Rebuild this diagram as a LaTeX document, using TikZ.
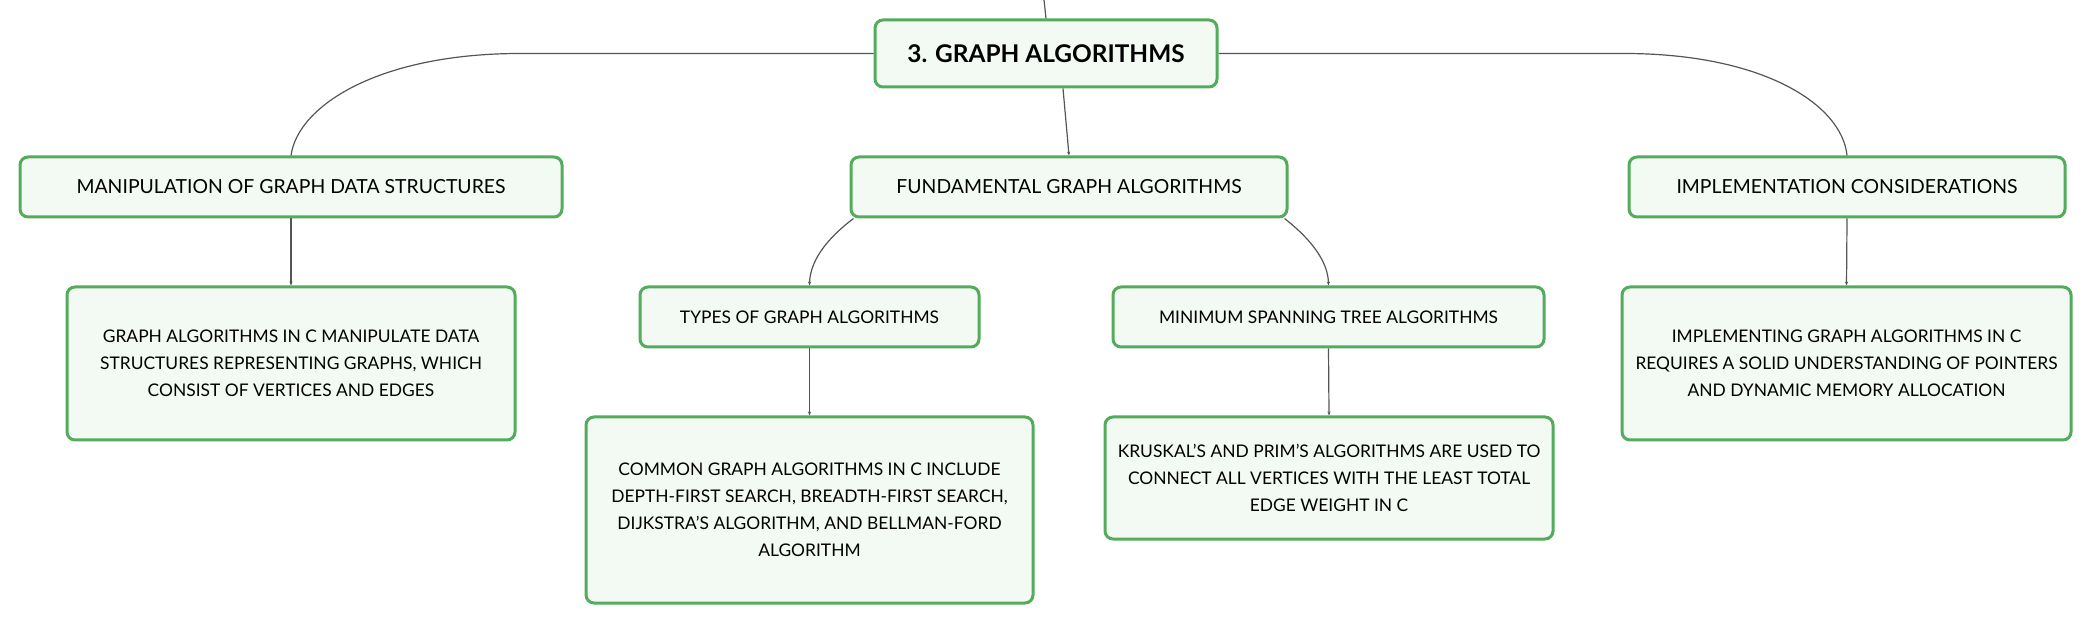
\documentclass[tikz,border=0pt]{standalone}
\usepackage{fontspec}
\setmainfont{Lato}
\usetikzlibrary{arrows.meta}
\definecolor{boxline}{RGB}{82,172,92}
\definecolor{boxfill}{RGB}{243,250,244}
\definecolor{linkgray}{RGB}{85,85,85}
\tikzset{
  topic/.style={draw=boxline, line width=1.5pt, fill=boxfill, rounded corners=4pt,
    align=center, inner sep=0pt, font=\fontsize{8.7}{13.5}\selectfont},
  head/.style={topic, minimum width=218pt, minimum height=30pt, font=\fontsize{9.7}{13.5}\selectfont},
  link/.style={draw=linkgray, line width=0.6pt},
  tip/.style={-{Stealth[length=2pt,width=1.6pt]}}
}
\begin{document}
\begin{tikzpicture}[x=0.5pt, y=-0.5pt]
\useasboundingbox (0,0) rectangle (2092,624);
\node[topic, minimum width=171pt, minimum height=33.5pt, font=\fontsize{12.2}{15}\selectfont\bfseries] (root) at (1046,53.5) {3. GRAPH ALGORITHMS};
\node[head, minimum width=271pt] (manip) at (291,187) {MANIPULATION OF GRAPH DATA STRUCTURES};
\node[head] (fund) at (1069,187) {FUNDAMENTAL GRAPH ALGORITHMS};
\node[head] (impl) at (1847,187) {IMPLEMENTATION CONSIDERATIONS};
\node[topic, minimum width=224pt, minimum height=76.5pt] (manipd) at (291,363.5) {GRAPH ALGORITHMS IN C MANIPULATE DATA\\ STRUCTURES REPRESENTING GRAPHS, WHICH\\ CONSIST OF VERTICES AND EDGES};
\node[topic, minimum width=169.5pt, minimum height=30pt] (types) at (809.5,317) {TYPES OF GRAPH ALGORITHMS};
\node[topic, minimum width=215.5pt, minimum height=30pt] (mst) at (1328.5,317) {MINIMUM SPANNING TREE ALGORITHMS};
\node[topic, minimum width=224.5pt, minimum height=76.5pt] (impld) at (1846.5,363.5) {IMPLEMENTING GRAPH ALGORITHMS IN C\\ REQUIRES A SOLID UNDERSTANDING OF POINTERS\\ AND DYNAMIC MEMORY ALLOCATION};
\node[topic, minimum width=223.5pt, minimum height=93pt] (common) at (809.5,510) {COMMON GRAPH ALGORITHMS IN C INCLUDE\\ DEPTH-FIRST SEARCH, BREADTH-FIRST SEARCH,\\ DIJKSTRA'S ALGORITHM, AND BELLMAN-FORD\\ ALGORITHM};
\node[topic, minimum width=224pt, minimum height=61pt] (krusk) at (1329,478) {KRUSKAL'S AND PRIM'S ALGORITHMS ARE USED TO\\ CONNECT ALL VERTICES WITH THE LEAST TOTAL\\ EDGE WEIGHT IN C};
\coordinate (up) at (1044,0);
\draw[link] (up) -- (root.north);
\draw[link] (root.west) -- (520,53.5) .. controls (380,53.5) and (298,105) .. (manip.north);
\draw[link] (root.east) -- (1624,53.5) .. controls (1764,53.5) and (1842,105) .. (impl.north);
\draw[link, tip] ([xshift=8.5pt]root.south) -- (fund.north);
\draw[link, tip] ([xshift=2pt]fund.south west) .. controls (825,240) and (810,262) .. (types.north);
\draw[link, tip] ([xshift=-2pt]fund.south east) .. controls (1312,240) and (1328,262) .. (mst.north);
\draw[link, tip] (manip.south) -- (manipd.north);
\draw[link, tip] (impl.south) -- (impld.north);
\draw[link, tip] (types.south) -- (common.north);
\draw[link, tip] (mst.south) -- (krusk.north);
\end{tikzpicture}
\end{document}
